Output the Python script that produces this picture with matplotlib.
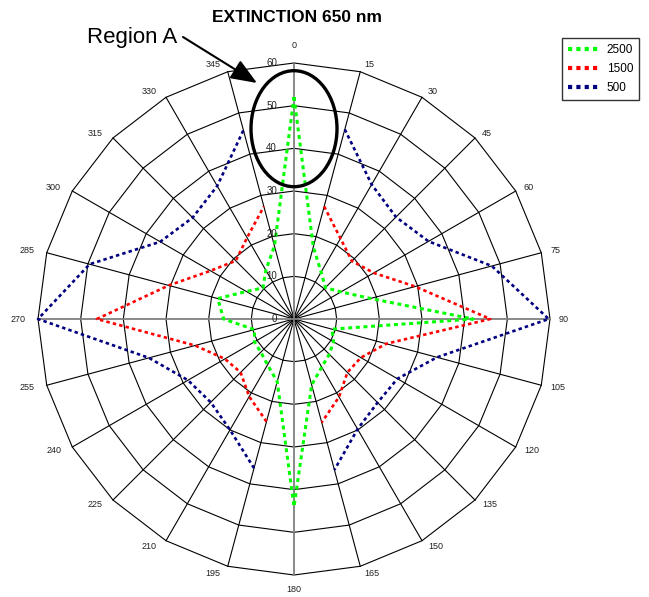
import numpy as np
import matplotlib
matplotlib.use("Agg")
import matplotlib.pyplot as plt
from matplotlib.patches import Ellipse
from matplotlib.lines import Line2D

plt.rcParams['font.family'] = ['Liberation Sans', 'DejaVu Sans']

# Angles (degrees) of the 24 categories
angles_deg = list(range(0, 360, 15))
radial_ticks = [0, 10, 20, 30, 40, 50, 60]

# Extinction values per angle; None marks an empty cell (line gap)
ext_2500 = [52, 17.5, 12.7, 10.4, 12.7, 18.6, 42, 9.2, 10.7, 11.7, 13, 16,
            44, 15.2, 12.4, 11, 10.7, 9.6, 16.5, 18.5, 12.9, 10.3, 13.2, 17.7]
ext_1500 = [None, 27.3, 21.8, 19.2, 21.6, 29.4, 46, 22.4, 18.1, 17.7, 21.1, 25.1,
            None, 24.9, 21, 17.7, 18.7, 24, 46.2, 30.4, 22.6, 19.3, 22, 27.3]
ext_500 = [None, 46, 36.4, 33.8, 36.4, 48, 59.7, 34.7, 28, 27.7, 29.8, 36.6,
           None, 36.2, 30, 27.6, 28.7, 35.2, 60, 49.6, 36.2, 33.6, 36, 45.8]

series_names = ['2500', '1500', '500']
series_values = [ext_2500, ext_1500, ext_500]
series_colors = ['#00FF00', '#FF0000', '#000080']
series_widths = [2.2, 1.9, 1.9]

W, H = 649, 597
fig = plt.figure(figsize=(W / 100, H / 100), dpi=100)

cx, cy, R = 294, 319, 256
ax = fig.add_axes([(cx - R) / W, (H - cy - R) / H, 2 * R / W, 2 * R / H],
                  projection='polar')
ax.set_theta_zero_location('N')
ax.set_theta_direction(-1)
ax.set_ylim(0, radial_ticks[-1])
ax.grid(False)
ax.set_xticks([])
ax.set_yticks([])
ax.spines['polar'].set_visible(False)
ax.patch.set_alpha(0)

theta = np.deg2rad(angles_deg)
theta_closed = np.append(theta, theta[0])

# Polygon rings
for r in radial_ticks[1:]:
    ax.plot(theta_closed, [r] * len(theta_closed), color='black', lw=0.8,
            zorder=1, clip_on=False)

# Spokes
for d, t in zip(angles_deg, theta):
    if d % 90 == 0:
        ax.plot([t, t], [0, radial_ticks[-1]], color='#808080', lw=1.3,
                zorder=1.5, clip_on=False)
    else:
        ax.plot([t, t], [0, radial_ticks[-1]], color='black', lw=0.8,
                zorder=1, clip_on=False)

# Data series
handles = []
for name, vals, col, lw in zip(series_names, series_values, series_colors,
                               series_widths):
    v = np.array([np.nan if x is None else x for x in vals], dtype=float)
    v_closed = np.append(v, v[0])
    ax.plot(theta_closed, v_closed, color=col, lw=lw,
            linestyle=(0, (1.3, 1.2)), dash_capstyle='butt', zorder=3,
            clip_on=False)
    handles.append(Line2D([], [], color=col, lw=3.0,
                          linestyle=(0, (1.0, 1.0)), dash_capstyle='butt'))

# Radial value labels along the 0 spoke
for r in radial_ticks:
    ax.annotate(str(r), xy=(0, r), xytext=(-17, 0), textcoords='offset pixels',
                ha='right', va='center', fontsize=7, color='#222222',
                annotation_clip=False)

# Category labels
for d, t in zip(angles_deg, theta):
    s, c = np.sin(t), np.cos(t)
    if d == 0:
        off, ha = (0, 18), 'center'
    elif d == 180:
        off, ha = (0, -15), 'center'
    elif d < 180:
        off, ha = (3 + 6 * abs(s), 7 * c), 'left'
    else:
        off, ha = (-(6 + 6 * abs(s)), 7 * c), 'right'
    ax.annotate(str(d), xy=(t, radial_ticks[-1]), xytext=off,
                textcoords='offset pixels', ha=ha, va='center', fontsize=6.5,
                color='#222222', annotation_clip=False)

# Title and annotation overlay
fig.text(297 / W, 1 - 18 / H, 'EXTINCTION 650 nm', ha='center', va='center',
         fontsize=12.5, fontweight='bold')
fig.text(87 / W, 1 - 38 / H, 'Region A', ha='left', va='center', fontsize=16)

ov = fig.add_axes([0, 0, 1, 1])
ov.set_xlim(0, W)
ov.set_ylim(H, 0)
ov.axis('off')
ov.patch.set_alpha(0)
ov.add_patch(Ellipse((294, 128.7), 86, 116, fill=False, lw=2.4,
                     edgecolor='black', zorder=5))
ov.annotate('', xy=(257, 83), xytext=(183, 37),
            arrowprops=dict(arrowstyle='-|>,head_length=1.0,head_width=0.4',
                            mutation_scale=16, lw=1.5, color='black',
                            shrinkA=0, shrinkB=0))

leg = fig.legend(handles, series_names, loc='upper left',
                 bbox_to_anchor=(562 / W, 1 - 38 / H), frameon=True,
                 fancybox=False, edgecolor='black', fontsize=8.5,
                 handlelength=2.8, handletextpad=0.5, labelspacing=0.6,
                 borderpad=0.5, borderaxespad=0)
leg.get_frame().set_linewidth(1.0)

fig.savefig('out.png', dpi=100)
